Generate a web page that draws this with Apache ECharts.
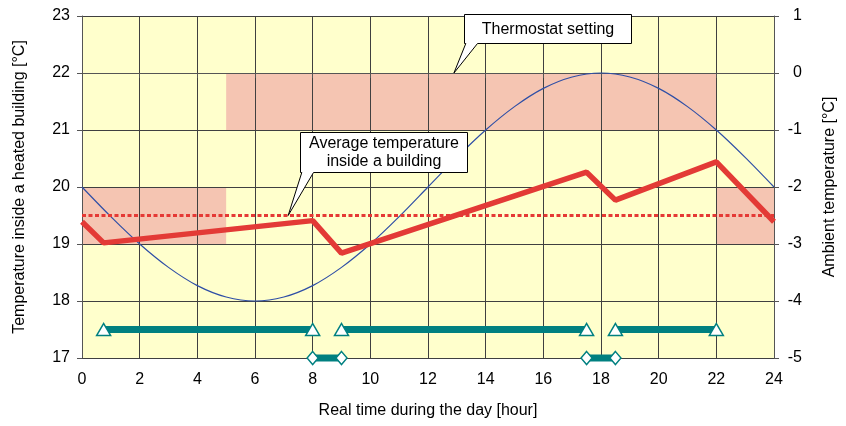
<!DOCTYPE html>
<html>
<head>
<meta charset="utf-8">
<script src="https://cdn.jsdelivr.net/npm/echarts@6/dist/echarts.min.js"></script>
<style>html,body{margin:0;padding:0;background:#fff;}#c{width:846px;height:426px;}</style>
</head>
<body>
<div id="c"></div>
<script>
// ---- data ----
const xTicks = [0, 2, 4, 6, 8, 10, 12, 14, 16, 18, 20, 22, 24];
const leftTicks = [17, 18, 19, 20, 21, 22, 23];
const rightTicks = [-5, -4, -3, -2, -1, 0, 1];

// thermostat setting bands (hours, °C inside)
const bandStart = [0, 5, 22];
const bandEnd = [5, 22, 24];
const bandLow = [19, 21, 19];
const bandHigh = [20, 22, 20];

// ambient temperature (right axis), hourly
const ambientHours = [0,1,2,3,4,5,6,7,8,9,10,11,12,13,14,15,16,17,18,19,20,21,22,23,24];
const ambientTemp = [-2.00,-2.52,-3.00,-3.41,-3.73,-3.93,-4.00,-3.93,-3.73,-3.41,-3.00,-2.52,-2.00,-1.48,-1.00,-0.59,-0.27,-0.07,0.00,-0.07,-0.27,-0.59,-1.00,-1.48,-2.00];

// average temperature inside the building
const avgHours = [0, 0.75, 8, 9, 17.5, 18.5, 22, 24];
const avgTemp = [19.39, 19.02, 19.41, 18.84, 20.26, 19.77, 20.44, 19.39];

// mean level
const meanLevel = 19.5;

// heating on periods (triangles) and off periods (diamonds)
const onStart = [0.75, 9, 18.5];
const onEnd = [8, 17.5, 22];
const onLevel = 17.5;
const offStart = [8, 17.5];
const offEnd = [9, 18.5];
const offLevel = 17;

// callouts: tip point and box top-left in data units
const callouts = [
  { text: 'Thermostat setting', tip: [12.9, 22], box: [13.24, 23.035] },
  { text: 'Average temperature\ninside a building', tip: [7.15, 19.5], box: [7.56, 20.965] }
];

// ---- chart ----
const FONT = "'Liberation Sans', Arial, sans-serif";
const TEAL = '#008080';
const chart = echarts.init(document.getElementById('c'));

const series = [];
series.push({
  type: 'line', data: [], z: 1, silent: true,
  markArea: {
    silent: true,
    itemStyle: { color: '#F5C5B2' },
    data: bandStart.map((s, i) => [{ coord: [s, bandHigh[i]] }, { coord: [bandEnd[i], bandLow[i]] }])
  }
});
series.push({
  type: 'line', yAxisIndex: 1, z: 4, symbol: 'none', smooth: 0.3,
  lineStyle: { color: '#2F4FA6', width: 1.2 },
  data: ambientHours.map((h, i) => [h, ambientTemp[i]])
});
series.push({
  type: 'line', z: 4, symbol: 'none',
  lineStyle: { color: '#E53935', width: 3, type: [4, 2.5] },
  data: [[xTicks[0], meanLevel], [xTicks[xTicks.length - 1], meanLevel]]
});
series.push({
  type: 'line', z: 5, symbol: 'none',
  lineStyle: { color: '#E33A36', width: 5.5 },
  data: avgHours.map((h, i) => [h, avgTemp[i]])
});
onStart.forEach((s, i) => series.push({
  type: 'line', z: 6, clip: false, symbol: 'triangle', symbolSize: [14, 12],
  itemStyle: { color: '#fff', borderColor: TEAL, borderWidth: 1.5 },
  lineStyle: { color: TEAL, width: 7 },
  data: [[s, onLevel], [onEnd[i], onLevel]]
}));
offStart.forEach((s, i) => series.push({
  type: 'line', z: 6, clip: false, symbol: 'diamond', symbolSize: [11, 13],
  itemStyle: { color: '#fff', borderColor: TEAL, borderWidth: 1.5 },
  lineStyle: { color: TEAL, width: 7 },
  data: [[s, offLevel], [offEnd[i], offLevel]]
}));

chart.setOption({
  animation: false,
  backgroundColor: '#fff',
  textStyle: { fontFamily: FONT },
  grid: { left: 82, right: 66, top: 16, bottom: 68, show: true, backgroundColor: '#FFFFCC', borderWidth: 0 },
  xAxis: {
    type: 'value', min: xTicks[0], max: xTicks[xTicks.length - 1], interval: 2, z: 2,
    name: 'Real time during the day [hour]', nameLocation: 'middle', nameGap: 45,
    nameTextStyle: { fontSize: 16, color: '#000', fontFamily: FONT },
    axisLine: { lineStyle: { color: '#555', width: 1 } },
    axisTick: { show: true, length: 5, lineStyle: { color: '#555' } },
    axisLabel: { fontSize: 16, color: '#000', margin: 14, fontFamily: FONT },
    splitLine: { show: true, lineStyle: { color: '#404040', width: 1 } }
  },
  yAxis: [{
    type: 'value', min: leftTicks[0], max: leftTicks[leftTicks.length - 1], interval: 1, z: 2,
    name: 'Temperature inside a heated building [°C]', nameLocation: 'middle', nameGap: 54, nameRotate: 90,
    nameTextStyle: { fontSize: 16, color: '#000', fontFamily: FONT },
    axisLine: { show: true, lineStyle: { color: '#555', width: 1 } },
    axisTick: { show: true, length: 5, lineStyle: { color: '#555' } },
    axisLabel: { fontSize: 16, color: '#000', margin: 12, fontFamily: FONT },
    splitLine: { show: true, lineStyle: { color: '#404040', width: 1 } }
  }, {
    type: 'value', position: 'right', min: rightTicks[0], max: rightTicks[rightTicks.length - 1], interval: 1, z: 2,
    name: 'Ambient temperature [°C]', nameLocation: 'middle', nameGap: 48, nameRotate: 90,
    nameTextStyle: { fontSize: 16, color: '#000', fontFamily: FONT },
    axisLine: { show: true, lineStyle: { color: '#555', width: 1 } },
    axisTick: { show: true, length: 5, lineStyle: { color: '#555' } },
    axisLabel: { fontSize: 16, color: '#000', margin: 28, align: 'right', fontFamily: FONT },
    splitLine: { show: false }
  }],
  series: series
});

// callout graphics positioned through the chart's coordinate system
const BOX_W = 167;
const graphics = [];
callouts.forEach((c) => {
  const lines = c.text.split('\n').length;
  const h = lines === 1 ? 29 : 40;
  const tip = chart.convertToPixel({ gridIndex: 0 }, c.tip);
  const tl = chart.convertToPixel({ gridIndex: 0 }, c.box);
  const x = Math.round(tl[0]) + 0.5, y = Math.round(tl[1]) + 0.5;
  graphics.push({
    type: 'polygon', z: 100,
    shape: { points: [[x, y], [x + BOX_W, y], [x + BOX_W, y + h], [x + 13, y + h], [tip[0], tip[1]], [x + 1.3, y + h], [x, y + h]] },
    style: { fill: '#fff', stroke: '#000', lineWidth: 1 }
  });
  graphics.push({
    type: 'text', z: 101,
    style: { text: c.text, x: x + BOX_W / 2, y: y + h / 2 + 0.5, align: 'center', verticalAlign: 'middle',
      fontSize: 16, fontFamily: FONT, lineHeight: 18, fill: '#000' }
  });
});
chart.setOption({ graphic: graphics });
</script>
</body>
</html>
